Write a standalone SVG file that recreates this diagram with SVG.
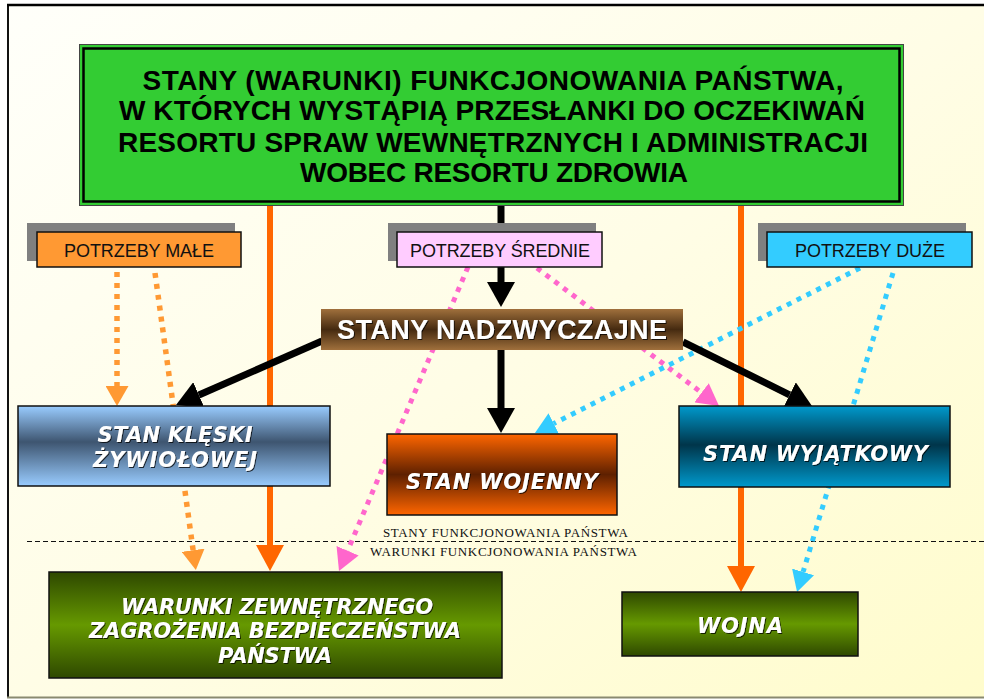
<svg xmlns="http://www.w3.org/2000/svg" width="984" height="699" viewBox="0 0 984 699">
<defs>
  <linearGradient id="bg" x1="0" y1="0" x2="1" y2="1">
    <stop offset="0" stop-color="#FFFFFA"/>
    <stop offset="0.5" stop-color="#FFFDE6"/>
    <stop offset="1" stop-color="#FFFCCC"/>
  </linearGradient>
  <linearGradient id="gKleski" x1="0" y1="0" x2="0" y2="1">
    <stop offset="0" stop-color="#99CCFF"/>
    <stop offset="0.45" stop-color="#3E5570"/>
    <stop offset="1" stop-color="#99CCFF"/>
  </linearGradient>
  <linearGradient id="gWojenny" x1="0" y1="0" x2="0" y2="1">
    <stop offset="0" stop-color="#FF6600"/>
    <stop offset="0.5" stop-color="#5E2000"/>
    <stop offset="1" stop-color="#FF6600"/>
  </linearGradient>
  <linearGradient id="gWyj" x1="0" y1="0" x2="0" y2="1">
    <stop offset="0" stop-color="#0099CC"/>
    <stop offset="0.48" stop-color="#00354A"/>
    <stop offset="1" stop-color="#0099CC"/>
  </linearGradient>
  <linearGradient id="gGreen" x1="0" y1="0" x2="0" y2="1">
    <stop offset="0" stop-color="#2E4800"/>
    <stop offset="0.5" stop-color="#669900"/>
    <stop offset="1" stop-color="#2E4800"/>
  </linearGradient>
  <linearGradient id="gBrown" x1="0" y1="0" x2="0" y2="1">
    <stop offset="0" stop-color="#A0703C"/>
    <stop offset="0.5" stop-color="#452A10"/>
    <stop offset="1" stop-color="#A0703C"/>
  </linearGradient>
  <filter id="ts" x="-10%" y="-30%" width="120%" height="160%">
    <feDropShadow dx="1" dy="1" stdDeviation="0.6" flood-color="#000" flood-opacity="0.75"/>
  </filter>
  <marker id="mBlack" markerUnits="userSpaceOnUse" viewBox="0 0 25 28" refX="0" refY="14" markerWidth="25" markerHeight="28" orient="auto">
    <path d="M0,0 L25,14 L0,28 z" fill="#000"/>
  </marker>
  <marker id="mOrange" markerUnits="userSpaceOnUse" viewBox="0 0 26 28" refX="0" refY="14" markerWidth="26" markerHeight="28" orient="auto">
    <path d="M0,0 L26,14 L0,28 z" fill="#FF6600"/>
  </marker>
  <marker id="mLOrange" markerUnits="userSpaceOnUse" viewBox="0 0 20 23" refX="0" refY="11.5" markerWidth="20" markerHeight="23" orient="auto">
    <path d="M0,0 L20,11.5 L0,23 z" fill="#FF9933"/>
  </marker>
  <marker id="mPink" markerUnits="userSpaceOnUse" viewBox="0 0 22 24" refX="0" refY="12" markerWidth="22" markerHeight="24" orient="auto">
    <path d="M0,0 L22,12 L0,24 z" fill="#FF66CC"/>
  </marker>
  <marker id="mBlue" markerUnits="userSpaceOnUse" viewBox="0 0 21 23" refX="0" refY="11.5" markerWidth="21" markerHeight="23" orient="auto">
    <path d="M0,0 L21,11.5 L0,23 z" fill="#33CCFF"/>
  </marker>
  <style>
    .box { stroke: #111; stroke-width: 1.5; }
    .shadow { fill: #808080; }
    .ptxt { font-family: "Liberation Sans", Arial, sans-serif; font-size: 18px; fill: #111; text-anchor: middle; }
    .title { font-family: "Liberation Sans", Arial, sans-serif; font-size: 28px; font-weight: bold; fill: #000; text-anchor: middle; }
    .ctxt { font-family: "DejaVu Sans", sans-serif; font-style: italic; font-weight: bold; font-size: 21px; fill: #fff; text-anchor: middle; filter: url(#ts); }
    .sep { font-family: "Liberation Serif", "Times New Roman", serif; font-size: 13px; fill: #111; }
    .solidBlack { stroke: #000; stroke-width: 7; fill: none; marker-end: url(#mBlack); }
    .solidOrange { stroke: #FF6600; stroke-width: 6; fill: none; marker-end: url(#mOrange); }
    .dotOrange { stroke: #FF9933; stroke-width: 5.5; fill: none; stroke-dasharray: 5 6; marker-end: url(#mLOrange); }
    .dotPink { stroke: #FF66CC; stroke-width: 5; fill: none; stroke-dasharray: 5 6; marker-end: url(#mPink); }
    .dotBlue { stroke: #33CCFF; stroke-width: 5; fill: none; stroke-dasharray: 5 6; marker-end: url(#mBlue); }
  </style>
</defs>

<rect x="0" y="0" width="984" height="699" fill="#FFFFFF"/>
<rect x="8" y="5" width="976" height="693" fill="url(#bg)"/>
<line x1="8" y1="4" x2="8" y2="698" stroke="#111" stroke-width="2"/>
<line x1="7" y1="5" x2="984" y2="5" stroke="#000" stroke-width="2.5"/>
<line x1="7" y1="697.5" x2="984" y2="697.5" stroke="#8A8A70" stroke-width="2"/>

<g id="separator">
  <line x1="27" y1="541.5" x2="984" y2="541.5" stroke="#111" stroke-width="1" stroke-dasharray="5 3"/>
  <text class="sep" x="383" y="537" textLength="245">STANY FUNKCJONOWANIA PAŃSTWA</text>
  <text class="sep" x="370" y="556" textLength="267">WARUNKI FUNKCJONOWANIA PAŃSTWA</text>
</g>

<g id="connectors">
  <path class="solidOrange" d="M270,206 L270,545"/>
  <path class="solidOrange" d="M741,206 L741,566"/>
  <path class="dotOrange" d="M117,272 L117,386"/>
  <path class="dotOrange" d="M155,273 L193.1,550.2"/>
  <path class="dotPink" d="M468,267 L347.6,550.7"/>
  <path class="dotPink" d="M537,268 L701.5,392.7"/>
  <path class="dotBlue" d="M860,268 L553.7,423.5"/>
  <path class="dotBlue" d="M893,273 L803.1,571.9"/>
  <path class="solidBlack" d="M501,206 L501,282"/>
  <path class="solidBlack" d="M501,350 L501,408"/>
  <path class="solidBlack" d="M322,341 L198.9,395"/>
  <path class="solidBlack" d="M683,342 L789.6,394.9"/>
</g>

<g id="title">
  <rect x="79.5" y="44.5" width="824" height="161" fill="#33CC33" stroke="#444" stroke-width="1"/>
  <rect x="83.5" y="48.5" width="816" height="153" fill="none" stroke="#000" stroke-width="2.5"/>
  <text class="title" x="493" y="90" textLength="701">STANY (WARUNKI) FUNKCJONOWANIA PAŃSTWA,</text>
  <text class="title" x="492" y="120" textLength="746">W KTÓRYCH WYSTĄPIĄ PRZESŁANKI DO OCZEKIWAŃ</text>
  <text class="title" x="493" y="151.5" textLength="750">RESORTU SPRAW WEWNĘTRZNYCH I ADMINISTRACJI</text>
  <text class="title" x="494" y="181.5" textLength="388">WOBEC RESORTU ZDROWIA</text>
</g>

<g id="potrzeby-male">
  <rect class="shadow" x="27" y="223" width="208" height="38"/>
  <rect class="box" x="37" y="232" width="204" height="35" fill="#FF9933"/>
  <text class="ptxt" x="139" y="257" textLength="150">POTRZEBY MAŁE</text>
</g>

<g id="potrzeby-srednie">
  <rect class="shadow" x="388" y="223" width="208" height="38"/>
  <rect class="box" x="397" y="232" width="205" height="35" fill="#FFCCFF"/>
  <text class="ptxt" x="500" y="257" textLength="180">POTRZEBY ŚREDNIE</text>
</g>

<g id="potrzeby-duze">
  <rect class="shadow" x="758" y="223" width="208" height="38"/>
  <rect class="box" x="767" y="232" width="205" height="35" fill="#33CCFF"/>
  <text class="ptxt" x="870" y="257" textLength="150">POTRZEBY DUŻE</text>
</g>

<g id="stany-nadzwyczajne">
  <rect x="321" y="309" width="362" height="41" fill="url(#gBrown)"/>
  <text x="502" y="339" font-family="'Liberation Sans', Arial, sans-serif" font-size="27" font-weight="bold" fill="#fff" text-anchor="middle" textLength="330" filter="url(#ts)">STANY NADZWYCZAJNE</text>
</g>

<g id="stan-kleski">
  <rect class="box" x="18" y="406" width="312" height="80" fill="url(#gKleski)"/>
  <text class="ctxt" x="175" y="442" font-size="20" textLength="155">STAN KLĘSKI</text>
  <text class="ctxt" x="175" y="467" font-size="20" textLength="164">ŻYWIOŁOWEJ</text>
</g>

<g id="stan-wojenny">
  <rect class="box" x="387" y="434" width="230" height="81" fill="url(#gWojenny)"/>
  <text class="ctxt" x="502" y="489" textLength="192">STAN WOJENNY</text>
</g>

<g id="stan-wyjatkowy">
  <rect class="box" x="679" y="406" width="271" height="81" fill="url(#gWyj)"/>
  <text class="ctxt" x="815.5" y="461" font-size="22" textLength="225">STAN WYJĄTKOWY</text>
</g>

<g id="warunki">
  <rect class="box" x="49" y="572" width="453" height="106" fill="url(#gGreen)"/>
  <text class="ctxt" x="277" y="614" textLength="312">WARUNKI ZEWNĘTRZNEGO</text>
  <text class="ctxt" x="275" y="638" textLength="372">ZAGROŻENIA BEZPIECZEŃSTWA</text>
  <text class="ctxt" x="275" y="663" textLength="114">PAŃSTWA</text>
</g>

<g id="wojna">
  <rect class="box" x="622" y="592" width="236" height="64" fill="url(#gGreen)"/>
  <text class="ctxt" x="740" y="633" font-size="22" textLength="86">WOJNA</text>
</g>
</svg>
